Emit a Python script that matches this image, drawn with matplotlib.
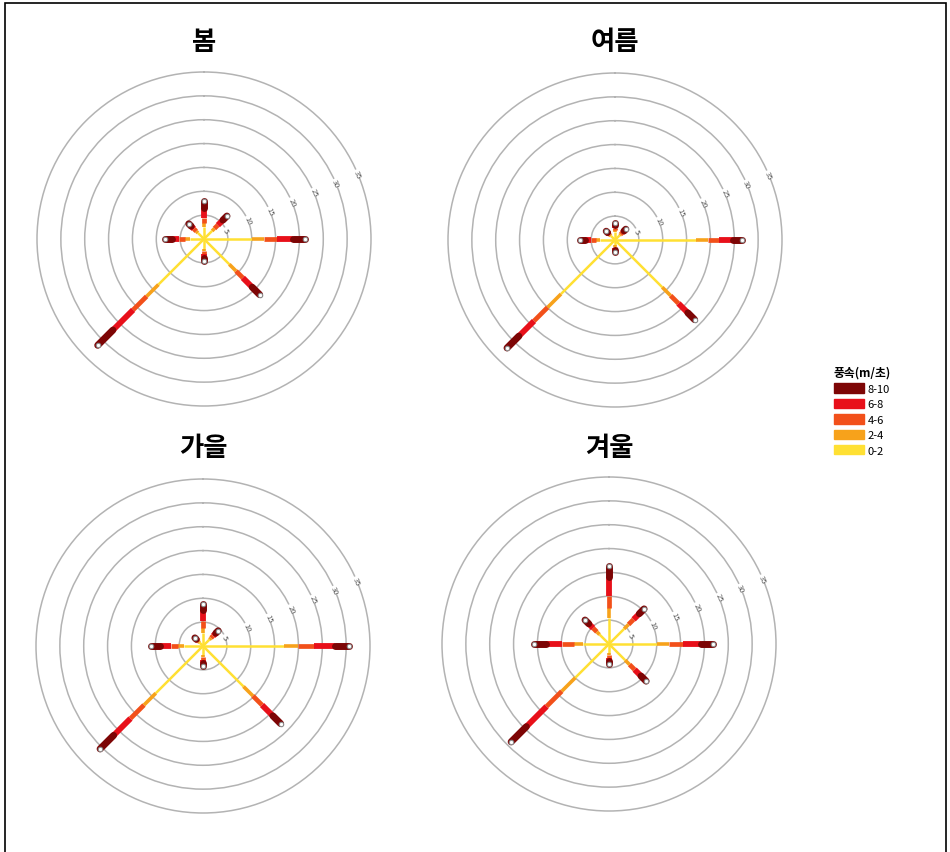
import numpy as np
import matplotlib
matplotlib.use("Agg")
import matplotlib.pyplot as plt
from matplotlib.patches import Patch, Rectangle

plt.rcParams["font.family"] = ["Noto Sans CJK KR", "DejaVu Sans"]

# Wind directions (bearing, clockwise from north)
directions = ["N", "NE", "E", "SE", "S", "SW", "W", "NW"]
bearings = [0, 45, 90, 135, 180, 225, 270, 315]

speed_classes = ["0-2", "2-4", "4-6", "6-8", "8-10"]
class_colors = ["#ffe033", "#f7a21b", "#f2501a", "#e8101a", "#7d0505"]
class_widths = [1.8, 2.6, 3.4, 4.2, 5.0]

ring_values = [5, 10, 15, 20, 25, 30, 35]

# frequency (%) by speed class, one row per direction (N .. NW)
spring = [
    [2.5, 0.8, 1.2, 2.0, 1.5],
    [2.4, 0.7, 1.0, 1.5, 1.2],
    [10.0, 2.5, 2.7, 3.5, 2.5],
    [7.5, 2.0, 2.0, 2.8, 2.2],
    [2.0, 0.5, 0.6, 0.8, 0.7],
    [13.5, 3.5, 4.0, 6.0, 4.5],
    [3.0, 0.9, 1.3, 1.6, 1.4],
    [1.8, 0.5, 0.7, 0.8, 0.7],
]
summer = [
    [1.6, 0.4, 0.5, 0.6, 0.5],
    [1.4, 0.3, 0.5, 0.5, 0.5],
    [17.0, 2.5, 2.2, 3.0, 2.0],
    [14.0, 2.5, 2.3, 2.8, 2.0],
    [1.1, 0.3, 0.3, 0.4, 0.4],
    [16.0, 4.0, 4.0, 4.5, 3.5],
    [3.2, 0.8, 1.0, 1.2, 1.2],
    [1.2, 0.3, 0.3, 0.4, 0.4],
]
autumn = [
    [2.8, 1.0, 1.5, 2.2, 1.3],
    [1.9, 0.5, 0.6, 0.8, 0.7],
    [17.0, 3.0, 3.2, 4.5, 3.0],
    [12.0, 2.8, 2.7, 3.2, 2.3],
    [1.8, 0.5, 0.6, 0.7, 0.6],
    [14.0, 3.5, 4.0, 5.0, 4.0],
    [4.0, 1.2, 1.6, 2.2, 2.0],
    [1.0, 0.3, 0.3, 0.4, 0.4],
]
winter = [
    [5.5, 2.0, 2.5, 4.0, 2.4],
    [4.5, 1.3, 1.5, 1.7, 1.4],
    [10.0, 2.5, 3.0, 3.7, 2.5],
    [4.8, 1.3, 1.5, 1.9, 1.5],
    [1.8, 0.5, 0.6, 0.7, 0.6],
    [10.0, 4.0, 4.5, 6.0, 4.5],
    [5.5, 1.8, 2.5, 3.5, 2.5],
    [2.8, 0.8, 1.1, 1.3, 1.1],
]

season_names = ["봄", "여름", "가을", "겨울"]
season_data = [spring, summer, autumn, winter]

W, H = 950, 853
fig = plt.figure(figsize=(W / 100, H / 100), dpi=100)

# panel centres in pixels, radius of the outermost (35) ring in pixels
centres = [(204, 240), (615, 241), (203, 647), (609, 645)]
title_y = [40, 40, 446, 446]
r35_px = 167
rmax = 35.4
R = r35_px * rmax / 35


def draw_rose(ax, data):
    ax.set_theta_zero_location("N")
    ax.set_theta_direction(-1)
    ax.set_ylim(0, rmax)
    ax.set_xticks([])
    ax.set_rgrids(ring_values, labels=[])
    ax.grid(axis="y", color="#b3b3b3", linewidth=1.1)
    ax.spines["polar"].set_visible(False)
    ax.set_facecolor("none")

    for b, row in zip(bearings, data):
        th = np.deg2rad(b)
        edges = np.concatenate([[0], np.cumsum(row)])
        for k in range(len(row)):
            cap = "round" if k == len(row) - 1 else "butt"
            ax.plot([th, th], [edges[k], edges[k + 1]], color=class_colors[k],
                    lw=class_widths[k], solid_capstyle=cap, zorder=3 + k)
        ax.plot(th, edges[-1], "o", ms=3.2, mfc="white", mec="#8a8a8a",
                mew=0.8, zorder=10)

    # ring labels, tangent to the circles
    lab_th = np.deg2rad(67)
    for v in ring_values:
        ax.text(lab_th, v, str(v), fontsize=5.5, color="#555555",
                rotation=-67, ha="center", va="center", zorder=2,
                bbox=dict(facecolor="white", edgecolor="none", pad=0.3))


for (cx, cy), ty, name, data in zip(centres, title_y, season_names, season_data):
    left = (cx - R) / W
    bottom = 1 - (cy + R) / H
    ax = fig.add_axes([left, bottom, 2 * R / W, 2 * R / H], projection="polar")
    draw_rose(ax, data)
    fig.text(cx / W, 1 - (ty + 2) / H, name,
             fontsize=19, fontweight="bold", ha="center", va="center")

# legend
handles = [Patch(facecolor=c, edgecolor=c, label=l)
           for c, l in zip(class_colors[::-1], speed_classes[::-1])]
leg = fig.legend(handles=handles, title="풍속(m/초)", loc="upper left",
                 bbox_to_anchor=(829 / W, 1 - 362 / H), frameon=False,
                 fontsize=8, title_fontsize=8.5, handlelength=2.7,
                 handleheight=0.9, labelspacing=0.45, handletextpad=0.3,
                 borderaxespad=0)
leg.get_title().set_fontweight("bold")

# outer frame (bottom edge runs off the image)
fig.add_artist(Rectangle((5 / W, -0.01), 941 / W, 1.01 - 4 / H,
                         transform=fig.transFigure, fill=False,
                         edgecolor="black", linewidth=1.2))

fig.savefig("out.png", dpi=100)
